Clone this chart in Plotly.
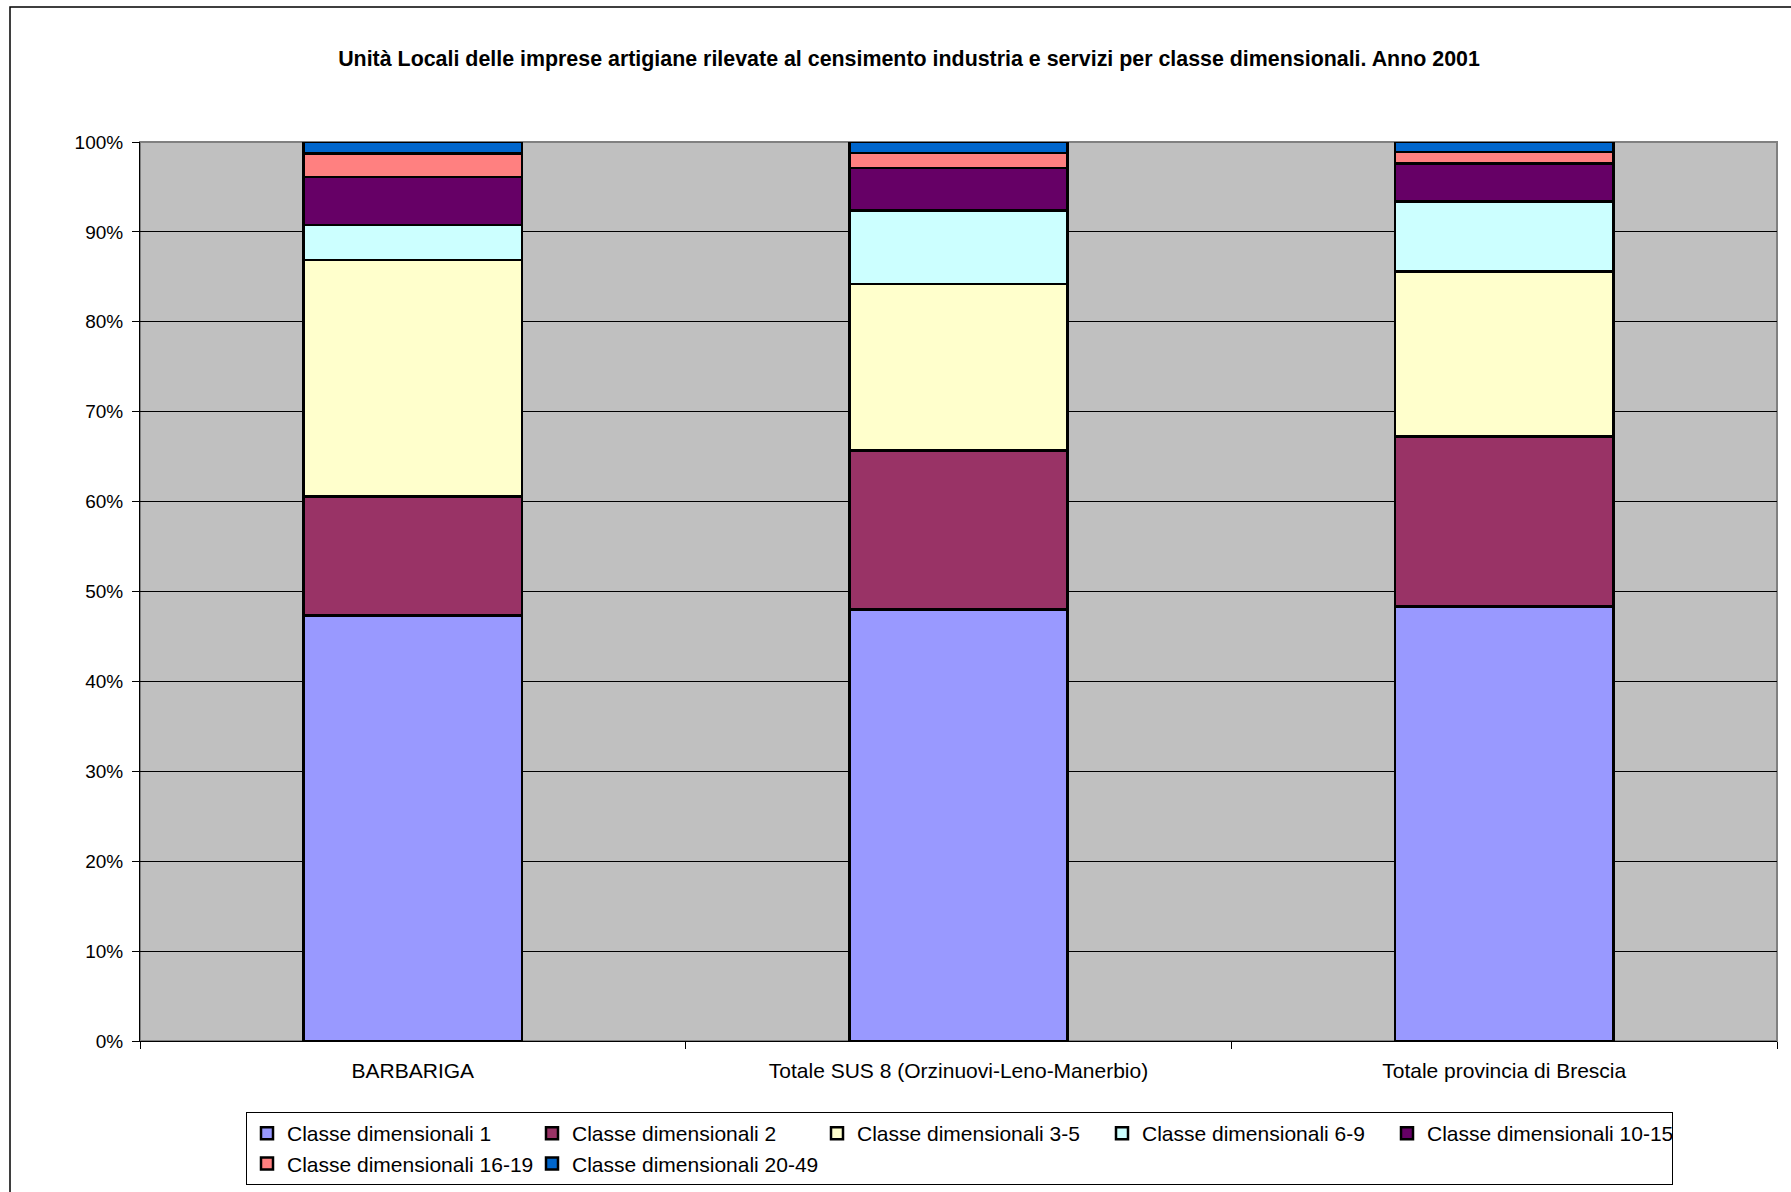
import plotly.graph_objects as go

# Categories and share (%) of local units by size class
categorie = ["BARBARIGA", "Totale SUS 8 (Orzinuovi-Leno-Manerbio)", "Totale provincia di Brescia"]

classi = [
    "Classe dimensionali 1",
    "Classe dimensionali 2",
    "Classe dimensionali 3-5",
    "Classe dimensionali 6-9",
    "Classe dimensionali 10-15",
    "Classe dimensionali 16-19",
    "Classe dimensionali 20-49",
]

cl_1 = [47.3, 48.0, 48.3]
cl_2 = [13.2, 17.7, 18.9]
cl_3_5 = [26.3, 18.5, 18.3]
cl_6_9 = [3.9, 8.2, 7.8]
cl_10_15 = [5.3, 4.7, 4.2]
cl_16_19 = [2.6, 1.7, 1.3]
cl_20_49 = [1.3, 1.2, 1.1]

valori = [cl_1, cl_2, cl_3_5, cl_6_9, cl_10_15, cl_16_19, cl_20_49]
colori = ["#9999FF", "#993366", "#FFFFCC", "#CCFFFF", "#660066", "#FF8080", "#0066CC"]

FONT = "Liberation Sans, Arial, sans-serif"

fig = go.Figure()
for nome, v, c in zip(classi, valori, colori):
    fig.add_trace(go.Bar(
        x=categorie, y=v, name=nome,
        marker=dict(color=c, line=dict(color="black", width=2.5)),
    ))

# plot area: x 140..1777, y 142..1041 (px)
W, H = 1791, 1192
L, R, T, B = 140, 14, 142, 151
pw, ph = W - L - R, H - T - B

fig.update_layout(
    width=W, height=H,
    margin=dict(l=L, r=R, t=T, b=B, autoexpand=False),
    barmode="stack", barnorm="percent", bargap=0.6,
    paper_bgcolor="white", plot_bgcolor="#C0C0C0",
    font=dict(family=FONT, size=20, color="black"),
    title=dict(
        text="<b>Unità Locali delle imprese artigiane rilevate al censimento industria e servizi per classe dimensionali. Anno 2001</b>",
        x=909 / W, xanchor="center", y=1 - 59 / H, yanchor="middle",
        font=dict(size=21.4, family=FONT),
    ),
    legend=dict(
        orientation="h", traceorder="normal",
        x=(246 - L) / pw, xanchor="left",
        y=(H - B - 1112) / ph, yanchor="top",
        bordercolor="black", borderwidth=1, bgcolor="white",
        entrywidth=240, entrywidthmode="pixels",
        font=dict(size=21, family=FONT),
    ),
    showlegend=True,
)

fig.update_yaxes(
    range=[0, 100], dtick=10, ticksuffix="%",
    showgrid=True, gridcolor="black", gridwidth=1,
    ticks="outside", ticklen=7, tickcolor="black",
    showline=True, linecolor="black", linewidth=1,
    zeroline=False, tickfont=dict(size=19), ticklabelstandoff=5,
)
fig.update_xaxes(
    tickson="boundaries", ticks="outside", ticklen=7, tickcolor="black",
    showline=True, linecolor="black", linewidth=1,
    showgrid=False, tickfont=dict(size=21), ticklabelstandoff=11,
)

# grey plot-area frame and outer chart border
fig.add_shape(type="rect", xref="paper", yref="paper", x0=0, x1=1, y0=0, y1=1,
              line=dict(color="#808080", width=2), layer="below")
fig.add_shape(type="rect", xref="paper", yref="paper",
              x0=(10 - L) / pw, x1=(W + 5 - L) / pw,
              y0=(H - B - (H + 5)) / ph, y1=(H - B - 7) / ph,
              line=dict(color="black", width=1.5))

fig.write_html("out.html", config={"displayModeBar": False},
               post_script="document.body.style.margin='0';")
